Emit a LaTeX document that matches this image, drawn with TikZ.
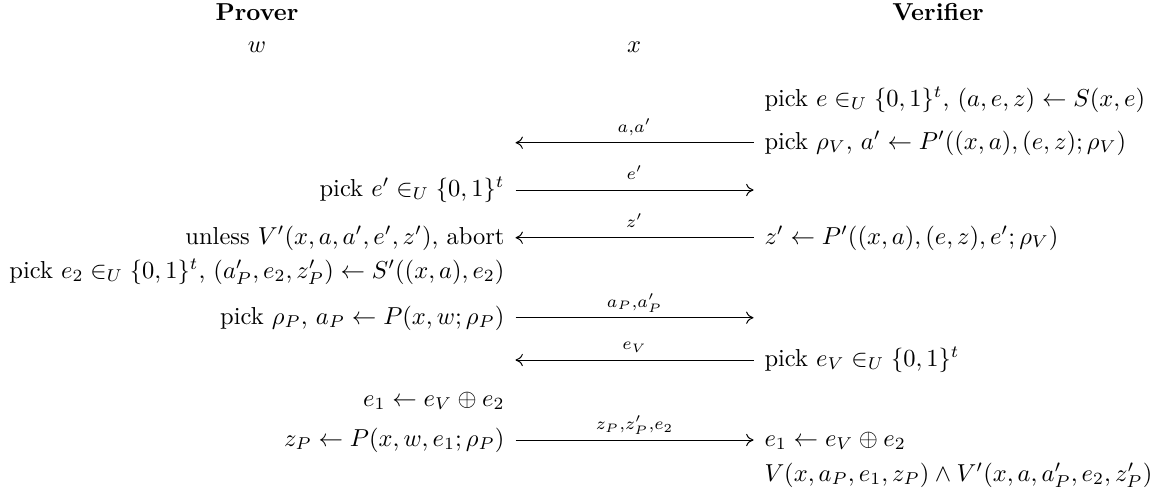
\documentclass[tikz,border=0pt]{standalone}
\usepackage{amsmath}
\usetikzlibrary{positioning,arrows.meta}
\tikzset{
lcol/.style={anchor=base east,inner sep=0pt},
rcol/.style={anchor=base west,inner sep=0pt},
head/.style={anchor=base,inner sep=0pt},
msg/.style={midway,anchor=base,yshift=4.2pt,inner sep=0pt}
}

\begin{document}
\begin{tikzpicture}[x=0.408pt,y=-0.408pt,>={To[length=3pt,width=5pt]},line width=0.4pt]
\useasboundingbox (0,0) rectangle (1153,495);

\node[head,font=\bfseries] (prover) at (257,20) {Prover};
\node[head,font=\bfseries] (verifier) at (938,20) {Verifier};
\node[head] (wit) at (257,52) {$w$};
\node[head] (inst) at (634,52) {$x$};

\node[rcol] (v1) at (764,106) {pick $e \in_U \{0,1\}^t$, $(a,e,z) \leftarrow S(x,e)$};
\node[rcol] (v2) at (764,149) {pick $\rho_V$, $a' \leftarrow P'((x,a),(e,z);\rho_V)$};
\node[lcol] (p3) at (505,196) {pick $e' \in_U \{0,1\}^t$};
\node[lcol] (p4) at (505,244) {unless $V'(x,a,a',e',z')$, abort};
\node[rcol] (v4) at (764,244) {$z' \leftarrow P'((x,a),(e,z),e';\rho_V)$};
\node[lcol] (p5) at (505,278) {pick $e_2 \in_U \{0,1\}^t$, $(a'_P,e_2,z'_P) \leftarrow S'((x,a),e_2)$};
\node[lcol] (p6) at (505,324) {pick $\rho_P$, $a_P \leftarrow P(x,w;\rho_P)$};
\node[rcol] (v7) at (764,366) {pick $e_V \in_U \{0,1\}^t$};
\node[lcol] (p8) at (505,406) {$e_1 \leftarrow e_V \oplus e_2$};
\node[lcol] (p9) at (505,446) {$z_P \leftarrow P(x,w,e_1;\rho_P)$};
\node[rcol] (v9) at (764,446) {$e_1 \leftarrow e_V \oplus e_2$};
\node[rcol] (v10) at (764,481) {$V(x,a_P,e_1,z_P) \wedge V'(x,a,a'_P,e_2,z'_P)$};

\coordinate (l2) at (515.5,142.7);
\coordinate (r2) at (753.5,142.7);
\coordinate (l3) at (515.5,190);
\coordinate (r3) at (753.5,190);
\coordinate (l4) at (515.5,237.7);
\coordinate (r4) at (753.5,237.7);
\coordinate (l6) at (515.5,317.7);
\coordinate (r6) at (753.5,317.7);
\coordinate (l7) at (515.5,360);
\coordinate (r7) at (753.5,360);
\coordinate (l9) at (515.5,440);
\coordinate (r9) at (753.5,440);

\draw[<-] (l2) -- node[msg] (m2) {$\scriptstyle a,a'$} (r2);
\draw[->] (l3) -- node[msg] (m3) {$\scriptstyle e'$} (r3);
\draw[<-] (l4) -- node[msg] (m4) {$\scriptstyle z'$} (r4);
\draw[->] (l6) -- node[msg] (m6) {$\scriptstyle a_P,a'_P$} (r6);
\draw[<-] (l7) -- node[msg] (m7) {$\scriptstyle e_V$} (r7);
\draw[->] (l9) -- node[msg] (m9) {$\scriptstyle z_P,z'_P,e_2$} (r9);
\end{tikzpicture}
\end{document}
